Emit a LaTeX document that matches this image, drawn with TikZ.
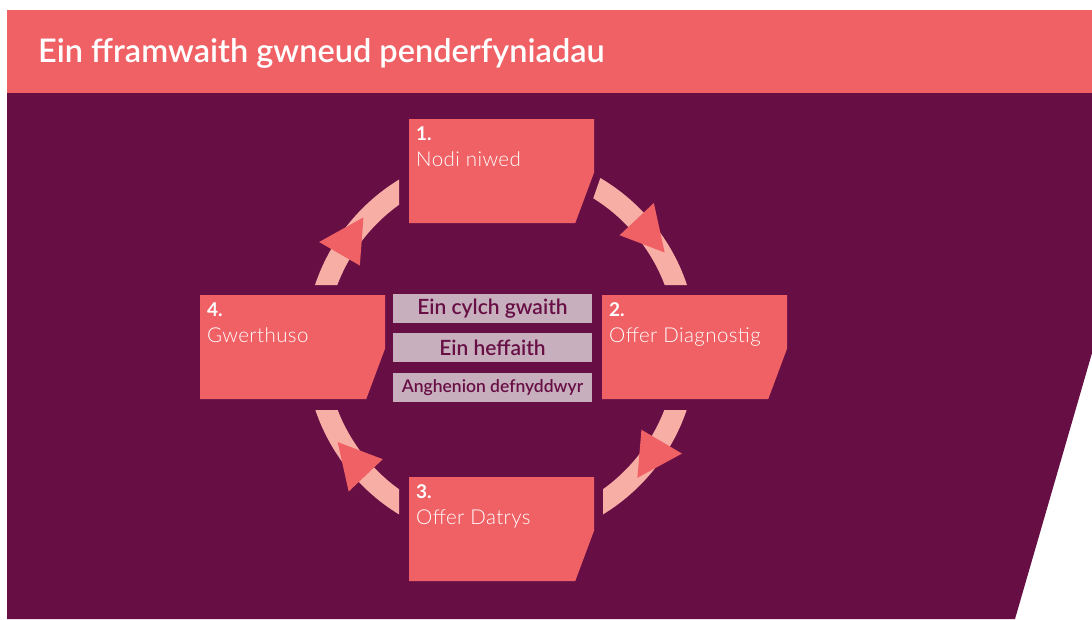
\documentclass[tikz,border=0pt]{standalone}
\usepackage{fontspec}
\setmainfont{Lato}
\IfFontExistsTF{Lato Light}{\newfontfamily\lightfont{Lato Light}[LetterSpace=2]}{\newfontfamily\lightfont{Lato}}
\IfFontExistsTF{Lato Semibold}{\newfontfamily\semifont{Lato Semibold}}{\newfontfamily\semifont{Lato}[FakeBold=1]}
\usetikzlibrary{positioning,calc}
\definecolor{plum}{HTML}{670F45}
\definecolor{coral}{HTML}{F06165}
\definecolor{blush}{HTML}{F7AFA5}
\definecolor{lilac}{HTML}{C8AFBE}
\tikzset{
  card/.style={anchor=north west, minimum width=185, minimum height=104, inner sep=0pt,
    path picture={\fill[coral] (path picture bounding box.north west) -- ++(185,0) -- ++(0,53)
      -- ++(-19,51) -- ++(-166,0) -- cycle;}},
  cardnum/.style={anchor=base west, inner sep=0pt, text=white, font=\bfseries\fontsize{19}{20}\selectfont},
  cardlabel/.style={anchor=base west, inner sep=0pt, text=white, font=\lightfont\fontsize{20.5}{22}\selectfont},
  tag/.style={fill=lilac, text=plum, minimum width=199, minimum height=29, inner sep=0pt, font=\semifont\fontsize{21}{22}\selectfont},
  ring/.style={blush, line width=21pt}
}
\begin{document}
\begin{tikzpicture}[x=1pt, y=-1pt]
  \useasboundingbox (0,0) rectangle (1092,619);
  \fill[white] (0,0) rectangle (1092,619);
  % panel and heading
  \fill[plum] (7,92) -- (1092,92) -- (1092,353) -- (1015,619) -- (7,619) -- cycle;
  \fill[coral] (7,10) rectangle (1092,92.5);
  \node[anchor=base west, inner sep=0pt, text=white, font=\semifont\fontsize{32.5}{34}\selectfont] (title) at (38,62) {Ein fframwaith gwneud penderfyniadau};
  % cycle ring
  \coordinate (cyc) at (501,347);
  \begin{scope}
    \clip (7,410) rectangle (399,619) (603,410) rectangle (1092,619) (7,93) rectangle (399,285)
      (630,93) -- (1092,93) -- (1092,285) -- (563,285) -- cycle;
    \draw[ring] (cyc) circle[radius=185.5];
  \end{scope}
  \foreach \b in {-43.3,30.5,136.5,210}
    \fill[coral] ($(cyc)+(\b:163)$) -- ($(cyc)+(\b+13.3:189)$) -- ($(cyc)+(\b:210)$) -- cycle;
  % steps
  \foreach \i/\x/\y/\lbl in {1/409/119/Nodi niwed, 2/602/295/Offer Diagnostig,
      3/409/477/Offer Datrys, 4/200/295/Gwerthuso} {
    \node[card] (n\i) at (\x,\y) {};
    \node[cardnum] (n\i num) at ([shift={(7,21)}]n\i.north west) {\i.};
    \node[cardlabel] (n\i lbl) at ([shift={(7,47)}]n\i.north west) {\lbl};
  }
  % centre tags
  \node[tag] (t1) at (492.5,308.5) {Ein cylch gwaith};
  \node[tag, below=10pt of t1] (t2) {Ein heffaith};
  \node[tag, below=10pt of t2, font=\semifont\fontsize{17.5}{18}\selectfont] (t3) {Anghenion defnyddwyr};
\end{tikzpicture}
\end{document}
